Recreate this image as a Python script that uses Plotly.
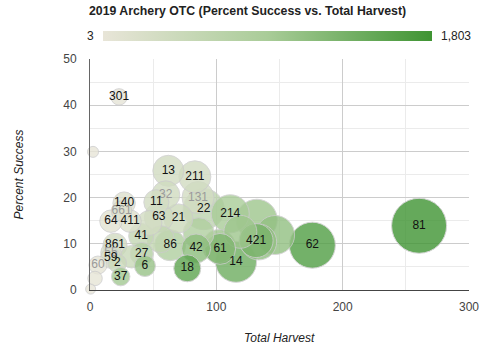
import plotly.graph_objects as go

# ---- data ----
unit_labels = ["81", "62", "", "", "14", "214", "22", "421", "", "61", "", "42", "", "86",
               "131", "211", "13", "32", "21", "63", "18", "41", "11", "", "27", "861",
               "140", "411", "64", "661", "", "6", "55", "59", "2", "37", "60", "", "301", "", "",
               "", ""]
total_harvest = [260.5, 176, 146.5, 132, 115.6, 111, 90, 131.5, 133.5, 103, 102, 84, 86, 63.5,
                 85.5, 83, 62, 60, 70, 54.5, 77, 40.5, 52.5, 47, 41, 19.8,
                 27, 31.7, 16.6, 25, 33, 43.5, 16.6, 16.4, 21.6, 24.3, 6.3, 4, 23, 2.4, 0.5,
                 119, 56]
percent_success = [13.9, 9.7, 11.9, 15.2, 6.1, 16.5, 17.5, 10.7, 10.4, 8.9, 9.5, 9.0, 12.3, 9.7,
                   20.0, 24.5, 25.8, 20.6, 15.5, 15.7, 4.7, 11.7, 19.0, 14.5, 7.8, 9.7,
                   18.8, 14.9, 14.9, 17.1, 7.2, 5.2, 8.1, 6.9, 5.8, 2.9, 5.4, 2.5, 41.8, 29.9, 0.2,
                   12.6, 11.0]
color_value = [1803, 1650, 1100, 1000, 1400, 900, 600, 1300, 1100, 1250, 1000, 1150, 800, 800,
               300, 330, 320, 340, 420, 360, 1550, 520, 300, 300, 750, 320,
               150, 160, 90, 150, 450, 1050, 260, 200, 420, 950, 40, 20, 25, 10, 3,
               1000, 550]
size_value = [225, 180, 145, 155, 155, 140, 155, 120, 130, 105, 115, 95, 105, 105,
              110, 110, 105, 90, 95, 95, 85, 75, 75, 75, 65, 70,
              62, 62, 62, 52, 62, 55, 52, 52, 42, 42, 40, 22, 32, 5, 0,
              115, 85]
faded_labels = {"131", "32", "661", "55", "60"}

x_ticks = [0, 100, 200, 300]
y_ticks = [0, 10, 20, 30, 40, 50]

# ---- styling / mapping ----
CMIN, CMAX = 3, 1803
RMIN, RMAX = 5, 27.5
smin, smax = min(size_value), max(size_value)
order = sorted(range(len(size_value)), key=lambda i: -size_value[i])  # big first, small on top


def diam(v):
    return 2 * (RMIN + (RMAX - RMIN) * (v - smin) / (smax - smin))


xs = [total_harvest[i] for i in order]
ys = [percent_success[i] for i in order]
cs = [color_value[i] for i in order]
ds = [diam(size_value[i]) for i in order]
ts = [unit_labels[i] for i in order]
tcol = ["#9a9a9a" if unit_labels[i] in faded_labels else "#111111" for i in order]

colorscale = [[0, "#e8e5d8"], [0.5, "#a9cc98"], [1, "#3f9433"]]

W, H = 500, 353
L, R, T, B = 90, 31, 59, 63
PW, PH = W - L - R, H - T - B


def px_x(p):
    return (p - L) / PW


def px_y(p):
    return (H - B - p) / PH


fig = go.Figure()
fig.add_trace(go.Scatter(
    x=xs, y=ys, mode="markers+text", text=ts,
    textposition="middle center",
    textfont=dict(family="Liberation Sans, Arial", size=12, color=tcol),
    marker=dict(size=ds, sizemode="diameter", color=cs, cmin=CMIN, cmax=CMAX,
                colorscale=colorscale, opacity=0.8,
                line=dict(color="#cccccc", width=1),
                colorbar=dict(orientation="h", thickness=10, lenmode="fraction",
                              len=329 / PW, xpad=0, ypad=0,
                              x=px_x(267.5), xanchor="center",
                              y=px_y(36), yanchor="middle",
                              showticklabels=False, ticks="", outlinewidth=0)),
    hoverinfo="skip", showlegend=False, cliponaxis=False,
))

fig.update_layout(
    width=W, height=H,
    margin=dict(l=L, r=R, t=T, b=B, autoexpand=False),
    paper_bgcolor="white", plot_bgcolor="white",
    font=dict(family="Liberation Sans, Arial", size=12, color="#444"),
    xaxis=dict(range=[0, 300], tickvals=x_ticks, ticktext=[str(v) for v in x_ticks],
               showgrid=True, gridcolor="#cccccc", gridwidth=1,
               minor=dict(dtick=50, tick0=0, showgrid=True, gridcolor="#ebebeb"),
               zeroline=False, showline=True, linecolor="#444", linewidth=1,
               ticks="", ticklabelstandoff=6, tickfont=dict(size=12, color="#444"),
               fixedrange=True),
    yaxis=dict(range=[0, 50], tickvals=y_ticks, ticktext=[str(v) for v in y_ticks],
               showgrid=True, gridcolor="#cccccc", gridwidth=1,
               minor=dict(dtick=5, tick0=0, showgrid=True, gridcolor="#ebebeb"),
               zeroline=False, showline=True, linecolor="#666", linewidth=1,
               ticks="", ticklabelstandoff=10, tickfont=dict(size=12, color="#444"),
               fixedrange=True),
    annotations=[
        dict(text="<b>2019 Archery OTC (Percent Success vs. Total Harvest)</b>",
             xref="paper", yref="paper", x=px_x(247), y=px_y(11),
             xanchor="center", yanchor="middle", showarrow=False,
             font=dict(size=12.3, color="#222")),
        dict(text="3", xref="paper", yref="paper", x=px_x(96),
             y=px_y(36), xanchor="right", yanchor="middle",
             showarrow=False, font=dict(size=12, color="#222")),
        dict(text="1,803", xref="paper", yref="paper", x=px_x(439),
             y=px_y(36), xanchor="left", yanchor="middle",
             showarrow=False, font=dict(size=12, color="#222")),
        dict(text="<i>Total Harvest</i>", xref="paper", yref="paper", x=0.5,
             y=px_y(338), xanchor="center", yanchor="middle",
             showarrow=False, font=dict(size=12, color="#222")),
        dict(text="<i>Percent Success</i>", xref="paper", yref="paper",
             x=px_x(18), y=0.5, textangle=-90,
             xanchor="center", yanchor="middle", showarrow=False,
             font=dict(size=12, color="#222")),
    ],
)

fig.write_html("out.html")
